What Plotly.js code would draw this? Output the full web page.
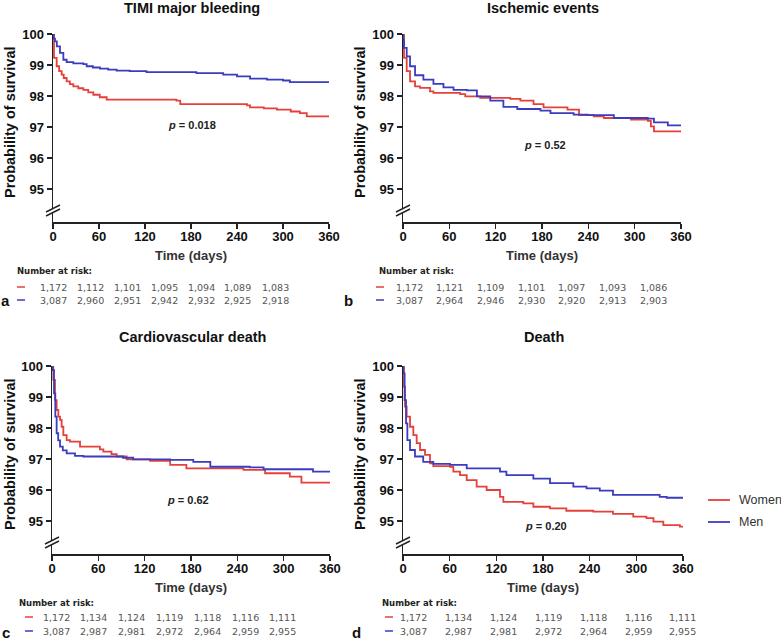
<!DOCTYPE html>
<html>
<head>
<meta charset="utf-8">
<script src="https://cdn.plot.ly/plotly-3.0.1.min.js"></script>
<style>html,body{margin:0;padding:0;background:#fff;}#chart{width:781px;height:644px;}</style>
</head>
<body>
<div id="chart"></div>
<script>
// ---------- DATA ----------
const panelTitles = ["TIMI major bleeding", "Ischemic events", "Cardiovascular death", "Death"];
const panelLetters = ["a", "b", "c", "d"];
const pValues = ["0.018", "0.52", "0.62", "0.20"];
const seriesNames = ["Women", "Men"];
const xTicks = [0, 60, 120, 180, 240, 300, 360];
const yTicks = [95, 96, 97, 98, 99, 100];

// Panel a: TIMI major bleeding
const bleedWomenDays = [0, 1.3, 4.8, 8, 11.3, 14, 17.8, 22, 26.5, 33, 39.6, 46, 52.6, 61, 70, 161, 166, 253, 257, 275, 292, 310, 322, 331, 360];
const bleedWomenSurv = [100, 99.23, 98.96, 98.8, 98.69, 98.58, 98.47, 98.38, 98.31, 98.25, 98.2, 98.12, 98.04, 97.96, 97.88, 97.85, 97.74, 97.7, 97.63, 97.6, 97.56, 97.5, 97.45, 97.34, 97.34];
const bleedMenDays = [0, 1, 2.6, 5, 9.1, 13.5, 17.8, 26.5, 39.6, 43.9, 52, 61.3, 72, 83, 100, 122, 187, 222, 240, 257, 279, 300, 309, 360];
const bleedMenSurv = [100, 99.85, 99.76, 99.6, 99.39, 99.17, 99.09, 99.05, 99.03, 98.96, 98.92, 98.88, 98.85, 98.82, 98.8, 98.77, 98.74, 98.69, 98.63, 98.56, 98.53, 98.5, 98.45, 98.44];

// Panel b: Ischemic events
const ischWomenDays = [0, 1.3, 4.8, 9.1, 15.6, 22, 35, 39.4, 74, 80.6, 100, 139, 152, 169, 182, 213, 228, 247, 260, 295, 317, 321, 325, 360];
const ischWomenSurv = [100, 99.23, 98.8, 98.47, 98.31, 98.26, 98.15, 98.1, 98.06, 97.99, 97.94, 97.91, 97.85, 97.74, 97.63, 97.56, 97.38, 97.34, 97.29, 97.24, 97.2, 97.02, 96.86, 96.83];
const ischMenDays = [0, 0.5, 1.3, 4.8, 9.1, 15.6, 26.4, 39.4, 52.4, 65.4, 82.7, 95.7, 113, 130, 148, 178, 191, 221, 239, 273, 317, 325, 343, 360];
const ischMenSurv = [100, 99.8, 99.55, 99.28, 98.96, 98.67, 98.53, 98.39, 98.28, 98.2, 98.18, 97.99, 97.85, 97.65, 97.58, 97.53, 97.45, 97.4, 97.38, 97.29, 97.27, 97.15, 97.05, 97.05];

// Panel c: Cardiovascular death
const cvWomenDays = [0, 1.7, 3.9, 6, 8.2, 10.4, 12.5, 14.7, 19, 23.3, 36.3, 62, 66.5, 77, 83.7, 96.7, 127, 153, 174, 248, 276, 308, 323, 360];
const cvWomenSurv = [100, 99.55, 98.9, 98.58, 98.37, 98.26, 98.04, 97.77, 97.61, 97.56, 97.4, 97.31, 97.24, 97.16, 97.08, 96.99, 96.94, 96.81, 96.7, 96.65, 96.54, 96.43, 96.24, 96.24];
const cvMenDays = [0, 0.9, 2.6, 4.3, 6, 8, 10.4, 14, 19, 29.8, 40.6, 92, 105, 153, 183, 205, 256, 274, 338, 360];
const cvMenSurv = [100, 99.87, 99.12, 98.37, 97.83, 97.6, 97.4, 97.28, 97.18, 97.1, 97.08, 97.04, 96.99, 96.97, 96.91, 96.75, 96.73, 96.67, 96.59, 96.59];

// Panel d: Death
const deathWomenDays = [0, 1.3, 2.6, 4.7, 9, 13.3, 17.6, 21.9, 28.3, 34.7, 39, 60.4, 64.7, 73.3, 81.9, 94.7, 107.6, 124.7, 129, 154.7, 167.6, 189, 210, 244.7, 270, 296, 313, 322, 334.7, 356, 360];
const deathWomenSurv = [100, 99.33, 98.69, 98.37, 98.04, 97.77, 97.51, 97.29, 97.13, 96.86, 96.77, 96.75, 96.59, 96.48, 96.32, 96.11, 96.0, 95.78, 95.62, 95.57, 95.46, 95.41, 95.33, 95.3, 95.23, 95.14, 95.09, 94.98, 94.87, 94.82, 94.82];
const deathMenDays = [0, 0.4, 2.1, 3.9, 5.6, 9, 15.4, 26, 39, 60.4, 81.9, 124.7, 133, 167.6, 189, 219, 236, 253, 270, 330, 339, 360];
const deathMenSurv = [100, 99.76, 98.9, 98.15, 97.61, 97.29, 97.08, 96.91, 96.84, 96.81, 96.7, 96.59, 96.48, 96.37, 96.22, 96.11, 96.05, 95.98, 95.84, 95.78, 95.75, 95.75];

// Number at risk
const riskWomenA = ["1,172", "1,112", "1,101", "1,095", "1,094", "1,089", "1,083"];
const riskMenA   = ["3,087", "2,960", "2,951", "2,942", "2,932", "2,925", "2,918"];
const riskWomenB = ["1,172", "1,121", "1,109", "1,101", "1,097", "1,093", "1,086"];
const riskMenB   = ["3,087", "2,964", "2,946", "2,930", "2,920", "2,913", "2,903"];
const riskWomenC = ["1,172", "1,134", "1,124", "1,119", "1,118", "1,116", "1,111"];
const riskMenC   = ["3,087", "2,987", "2,981", "2,972", "2,964", "2,959", "2,955"];
const riskWomenD = ["1,172", "1,134", "1,124", "1,119", "1,118", "1,116", "1,111"];
const riskMenD   = ["3,087", "2,987", "2,981", "2,972", "2,964", "2,959", "2,955"];

// ---------- LAYOUT / STYLE ----------
const W = 781, H = 644;
const RED = "#e5403a", BLUE = "#3a3dbd";
const FONT = "Liberation Sans, Arial, sans-serif";
const SMALL = "DejaVu Sans, Verdana, sans-serif";
const px = v => v / W;
const py = v => 1 - v / H;

const panels = [
  {women:[bleedWomenDays, bleedWomenSurv], men:[bleedMenDays, bleedMenSurv], riskW:riskWomenA, riskM:riskMenA,
   x0:53, x1:329, yTop:34, yBot:222, titleY:8, yTitleX:10,
   p:{x:181, y:97.06}, risk:{hdrX:15, hdrY:271, dashX:21, colX0:53, colDx:37, rowW:287, rowM:300},
   letter:{x:5, y:300}},
  {women:[ischWomenDays, ischWomenSurv], men:[ischMenDays, ischMenSurv], riskW:riskWomenB, riskM:riskMenB,
   x0:403, x1:681, yTop:34, yBot:222, titleY:8, yTitleX:360,
   p:{x:184, y:96.42}, risk:{hdrX:377, hdrY:271, dashX:380, colX0:409, colDx:40.7, rowW:287, rowM:300},
   letter:{x:348, y:300}},
  {women:[cvWomenDays, cvWomenSurv], men:[cvMenDays, cvMenSurv], riskW:riskWomenC, riskM:riskMenC,
   x0:52, x1:330, yTop:366, yBot:554, titleY:337, yTitleX:10,
   p:{x:176, y:95.68}, risk:{hdrX:17, hdrY:603, dashX:29, colX0:56, colDx:37.8, rowW:617, rowM:631},
   letter:{x:6, y:632}},
  {women:[deathWomenDays, deathWomenSurv], men:[deathMenDays, deathMenSurv], riskW:riskWomenD, riskM:riskMenD,
   x0:403, x1:683, yTop:366, yBot:554, titleY:337, yTitleX:360,
   p:{x:184, y:94.84}, risk:{hdrX:380, hdrY:603, dashX:389, colX0:414, colDx:44.8, rowW:617, rowM:631},
   letter:{x:356, y:632}}
];

const data = [];
const layout = {
  width: W, height: H,
  margin: {l:0, r:0, t:0, b:0, pad:0},
  paper_bgcolor: "#fff", plot_bgcolor: "#fff",
  showlegend: false,
  font: {family: FONT, color: "#111"},
  annotations: [], shapes: []
};

panels.forEach((P, i) => {
  const n = i + 1;
  const xa = i === 0 ? "x" : "x" + n;
  const ya = i === 0 ? "y" : "y" + n;
  const xKey = i === 0 ? "xaxis" : "xaxis" + n;
  const yKey = i === 0 ? "yaxis" : "yaxis" + n;

  [[P.women, RED, seriesNames[0]], [P.men, BLUE, seriesNames[1]]].forEach(([s, col, nm]) => {
    data.push({
      type: "scatter", mode: "lines", name: nm,
      x: s[0], y: s[1], xaxis: xa, yaxis: ya,
      line: {color: col, width: 1.8, shape: "hv"},
      cliponaxis: false, hoverinfo: "skip"
    });
  });

  layout[xKey] = {
    domain: [px(P.x0), px(P.x1)], anchor: ya,
    range: [0, 360], tickvals: xTicks, ticktext: xTicks.map(String),
    ticks: "outside", ticklen: 5, tickwidth: 1.5, tickcolor: "#222",
    showline: true, linewidth: 1.5, linecolor: "#222",
    showgrid: false, zeroline: false, fixedrange: true,
    ticklabelstandoff: -3,
    tickfont: {family: FONT, size: 13, weight: 700, color: "#111"},
    title: {text: "Time (days)", font: {family: FONT, size: 13, weight: 700, color: "#333"}, standoff: 8}
  };
  layout[yKey] = {
    domain: [py(P.yBot), py(P.yTop)], anchor: xa,
    range: [100 - (P.yBot - P.yTop) / 31, 100], tickvals: yTicks,
    ticks: "outside", ticklen: 5, tickwidth: 1.5, tickcolor: "#222",
    showline: true, linewidth: 1.5, linecolor: "#222",
    showgrid: false, zeroline: false, fixedrange: true,
    tickfont: {family: FONT, size: 13, weight: 700, color: "#111"}
  };

  const cx = (P.x0 + P.x1) / 2 + 1;
  // panel title
  layout.annotations.push({xref:"paper", yref:"paper", x:px(cx), y:py(P.titleY), xanchor:"center", yanchor:"middle",
    text: panelTitles[i], showarrow:false, font:{family:FONT, size:14.5, weight:700, color:"#111"}});
  // y-axis title
  layout.annotations.push({xref:"paper", yref:"paper", x:px(P.yTitleX), y:py((P.yTop + P.yBot) / 2 - 6), xanchor:"center", yanchor:"middle",
    text: "Probability of survival", textangle:-90, showarrow:false, font:{family:FONT, size:14.5, weight:700, color:"#111"}});
  // p value
  layout.annotations.push({xref:xa, yref:ya, x:P.p.x, y:P.p.y, xanchor:"center", yanchor:"middle",
    text: "<i>p</i> = " + pValues[i], showarrow:false, font:{family:FONT, size:11, weight:700, color:"#222"}});
  // panel letter
  layout.annotations.push({xref:"paper", yref:"paper", x:px(P.letter.x), y:py(P.letter.y), xanchor:"center", yanchor:"middle",
    text: panelLetters[i], showarrow:false, font:{family:FONT, size:15, weight:700, color:"#111"}});
  // number at risk header
  layout.annotations.push({xref:"paper", yref:"paper", x:px(P.risk.hdrX), y:py(P.risk.hdrY), xanchor:"left", yanchor:"middle",
    text: "Number at risk:", showarrow:false, font:{family:SMALL, size:8.5, weight:700, color:"#222"}});
  // risk rows
  [[P.riskW, P.risk.rowW, RED], [P.riskM, P.risk.rowM, BLUE]].forEach(([arr, yy, col]) => {
    layout.shapes.push({type:"line", xref:"paper", yref:"paper", x0:px(P.risk.dashX - 4), x1:px(P.risk.dashX + 4),
      y0:py(yy), y1:py(yy), line:{color:col, width:1.5}});
    arr.forEach((t, k) => {
      layout.annotations.push({xref:"paper", yref:"paper", x:px(P.risk.colX0 + k * P.risk.colDx), y:py(yy), xanchor:"center", yanchor:"middle",
        text: t, showarrow:false, font:{family:SMALL, size:9.5, color:"#555"}});
    });
  });
  // axis break marks
  const bx = P.x0, by = P.yBot - 12;
  layout.shapes.push({type:"line", xref:"paper", yref:"paper", x0:px(bx), x1:px(bx), y0:py(by - 1.5), y1:py(by + 2.5),
    line:{color:"#fff", width:3}, layer:"above"});
  layout.shapes.push({type:"line", xref:"paper", yref:"paper", x0:px(bx - 7), x1:px(bx + 7), y0:py(by + 2), y1:py(by - 5),
    line:{color:"#222", width:1.5}, layer:"above"});
  layout.shapes.push({type:"line", xref:"paper", yref:"paper", x0:px(bx - 7), x1:px(bx + 7), y0:py(by + 6), y1:py(by - 1),
    line:{color:"#222", width:1.5}, layer:"above"});
});

// legend (manual, beside the Death panel)
[[seriesNames[0], RED, 500], [seriesNames[1], BLUE, 522]].forEach(([nm, col, yy]) => {
  layout.shapes.push({type:"line", xref:"paper", yref:"paper", x0:px(708), x1:px(730), y0:py(yy), y1:py(yy), line:{color:col, width:1.8}});
  layout.annotations.push({xref:"paper", yref:"paper", x:px(737), y:py(yy), xanchor:"left", yanchor:"middle",
    text: nm, showarrow:false, font:{family:FONT, size:12.5, color:"#333"}});
});

Plotly.newPlot("chart", data, layout, {displayModeBar:false, staticPlot:true});
</script>
</body>
</html>
